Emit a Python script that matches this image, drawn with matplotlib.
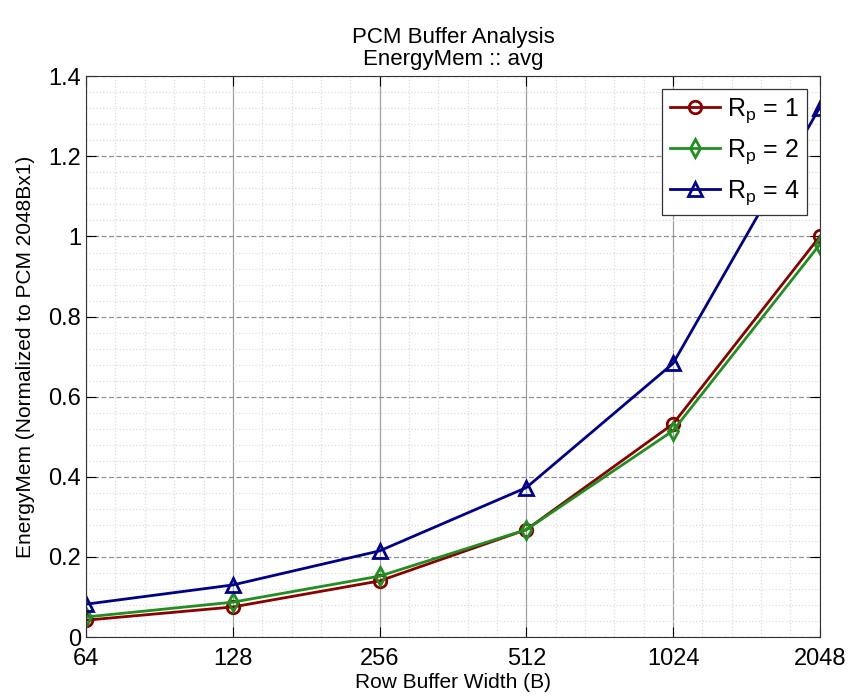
import numpy as np
import matplotlib
matplotlib.use("Agg")
import matplotlib.pyplot as plt
from matplotlib.ticker import MultipleLocator

plt.rcParams['font.family'] = ['Liberation Sans', 'DejaVu Sans']
plt.rcParams['mathtext.fontset'] = 'custom'
plt.rcParams['mathtext.rm'] = 'Liberation Sans'

# row buffer widths (B)
widths = ['64', '128', '256', '512', '1024', '2048']
rp1 = [0.042, 0.075, 0.140, 0.268, 0.532, 1.000]
rp2 = [0.050, 0.087, 0.152, 0.268, 0.515, 0.980]
rp4 = [0.082, 0.130, 0.215, 0.373, 0.683, 1.322]
series_labels = ['R$_{\\rm p}$ = 1', 'R$_{\\rm p}$ = 2', 'R$_{\\rm p}$ = 4']

x = np.arange(len(widths))

fig = plt.figure(figsize=(8.53, 7.0), dpi=100)
ax = fig.add_axes([0.101, 0.09, 0.860, 0.801])

ax.plot(x, rp1, '-o', color='#8b0000', lw=2, ms=9, mfc='none', mew=2, label=series_labels[0])
ax.plot(x, rp2, '-d', color='#1f8f1f', lw=2, ms=9, mfc='none', mew=2, label=series_labels[1])
ax.plot(x, rp4, '-^', color='#00008b', lw=2, ms=10, mfc='none', mew=2, label=series_labels[2])

ax.set_xlim(0, len(widths) - 1)
ax.set_ylim(0, 1.4)
ax.set_xticks(x)
ax.set_xticklabels(widths)
ax.set_yticks([0, 0.2, 0.4, 0.6, 0.8, 1.0, 1.2, 1.4])
ax.set_yticklabels(['0', '0.2', '0.4', '0.6', '0.8', '1', '1.2', '1.4'])
ax.xaxis.set_minor_locator(MultipleLocator(0.2))
ax.yaxis.set_minor_locator(MultipleLocator(0.04))

ax.xaxis.grid(True, which='major', color='#a0a0a0', ls='-', lw=0.9)
ax.yaxis.grid(True, which='major', color='#909090', ls=(0, (4, 2)), lw=0.9)
ax.grid(True, which='minor', color='#dcdcdc', ls=':', lw=0.9)
ax.set_axisbelow(True)

ax.tick_params(which='both', direction='in', top=True, right=True, labelsize=17)
ax.tick_params(which='major', length=7)
ax.tick_params(which='minor', length=0)
ax.tick_params(axis='x', pad=8)
for s in ax.spines.values():
    s.set_color('#333333')

ax.set_xlabel('Row Buffer Width (B)', fontsize=15, labelpad=2)
ax.set_ylabel('EnergyMem (Normalized to PCM 2048Bx1)', fontsize=15, labelpad=10)
ax.set_title('PCM Buffer Analysis\nEnergyMem :: avg', fontsize=16, linespacing=1.1, pad=8)

leg = ax.legend(loc='upper right', fontsize=18, frameon=True, fancybox=False,
                edgecolor='#333333', framealpha=1, borderaxespad=0.5,
                handlelength=2.0, handletextpad=0.3, labelspacing=0.5,
                borderpad=0.3)
leg.get_frame().set_linewidth(0.9)

fig.savefig('out.png', dpi=100)
